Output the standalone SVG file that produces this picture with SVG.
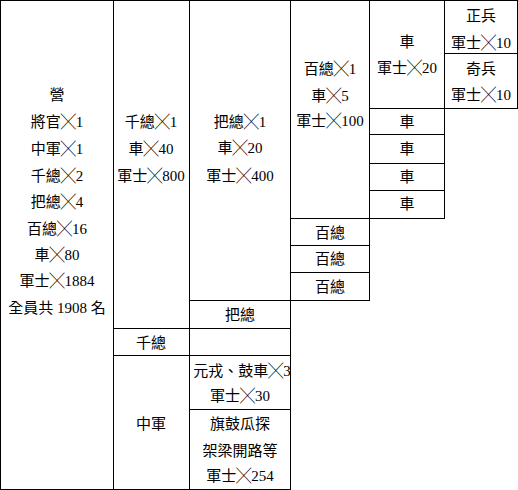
<svg xmlns="http://www.w3.org/2000/svg" width="518" height="490" viewBox="0 0 518 490">
<style>
text{font-family:"Liberation Serif","Noto Sans CJK TC",serif;font-size:15px;fill:#000;text-anchor:middle}
.x{font-family:"Noto Sans CJK TC",sans-serif;font-weight:300}
#grid line{stroke:#000;stroke-width:1}
</style>
<defs>
<clipPath id="c3"><rect x="190" y="356" width="100" height="53"/></clipPath>
</defs>
<rect width="518" height="490" fill="#fff"/>
<g id="grid">
<line x1="0" y1="0.5" x2="518" y2="0.5"/>
<line x1="0.5" y1="0" x2="0.5" y2="490"/>
<line x1="113.5" y1="0" x2="113.5" y2="490"/>
<line x1="189.5" y1="0" x2="189.5" y2="490"/>
<line x1="290.5" y1="0" x2="290.5" y2="490"/>
<line x1="369.5" y1="0" x2="369.5" y2="301"/>
<line x1="444.5" y1="0" x2="444.5" y2="219"/>
<line x1="517.5" y1="0" x2="517.5" y2="109"/>
<line x1="0" y1="489.5" x2="291" y2="489.5"/>
<line x1="444" y1="53.5" x2="518" y2="53.5"/>
<line x1="369" y1="108.5" x2="518" y2="108.5"/>
<line x1="369" y1="134.5" x2="445" y2="134.5"/>
<line x1="369" y1="163.5" x2="445" y2="163.5"/>
<line x1="369" y1="190.5" x2="445" y2="190.5"/>
<line x1="290" y1="218.5" x2="445" y2="218.5"/>
<line x1="290" y1="245.5" x2="370" y2="245.5"/>
<line x1="290" y1="272.5" x2="370" y2="272.5"/>
<line x1="189" y1="300.5" x2="370" y2="300.5"/>
<line x1="113" y1="328.5" x2="291" y2="328.5"/>
<line x1="113" y1="355.5" x2="291" y2="355.5"/>
<line x1="189" y1="409.5" x2="291" y2="409.5"/>
</g>
<g id="ying">
<text x="57" y="99.5">營</text>
<text x="57" y="126.5">將官<tspan class="x">╳</tspan>1</text>
<text x="57" y="153.5">中軍<tspan class="x">╳</tspan>1</text>
<text x="57" y="180.5">千總<tspan class="x">╳</tspan>2</text>
<text x="57" y="206.5">把總<tspan class="x">╳</tspan>4</text>
<text x="57" y="233.5">百總<tspan class="x">╳</tspan>16</text>
<text x="57" y="259.5">車<tspan class="x">╳</tspan>80</text>
<text x="57" y="285.5">軍士<tspan class="x">╳</tspan>1884</text>
<text x="57" y="312.5">全員共 1908 名</text>
</g>
<g id="qianzong">
<text x="151" y="126.5">千總<tspan class="x">╳</tspan>1</text>
<text x="151" y="153.5">車<tspan class="x">╳</tspan>40</text>
<text x="151" y="180.5">軍士<tspan class="x">╳</tspan>800</text>
</g>
<g id="qianzong2"><text x="151" y="347.5">千總</text></g>
<g id="zhongjun"><text x="151" y="428.5">中軍</text></g>
<g id="bazong">
<text x="240" y="126.5">把總<tspan class="x">╳</tspan>1</text>
<text x="240" y="152.5">車<tspan class="x">╳</tspan>20</text>
<text x="240" y="180.5">軍士<tspan class="x">╳</tspan>400</text>
</g>
<g id="bazong2"><text x="240" y="319.5">把總</text></g>
<g id="empty"></g>
<g id="yuanrong" clip-path="url(#c3)">
<text x="242" y="375.5">元戎、鼓車<tspan class="x">╳</tspan>3</text>
<text x="240" y="400.5">軍士<tspan class="x">╳</tspan>30</text>
</g>
<g id="qigu">
<text x="240" y="428.5">旗鼓瓜探</text>
<text x="240" y="455.5">架梁開路等</text>
<text x="240" y="480.5">軍士<tspan class="x">╳</tspan>254</text>
</g>
<g id="baizong">
<text x="330" y="73.5">百總<tspan class="x">╳</tspan>1</text>
<text x="330" y="100.5">車<tspan class="x">╳</tspan>5</text>
<text x="330" y="126">軍士<tspan class="x">╳</tspan>100</text>
</g>
<g id="baizong-a"><text x="330" y="237.5">百總</text></g>
<g id="baizong-b"><text x="330" y="263.5">百總</text></g>
<g id="baizong-c"><text x="330" y="291.5">百總</text></g>
<g id="che">
<text x="407" y="47">車</text>
<text x="407" y="72.5">軍士<tspan class="x">╳</tspan>20</text>
</g>
<g id="che-a"><text x="407" y="126.5">車</text></g>
<g id="che-b"><text x="407" y="153.5">車</text></g>
<g id="che-c"><text x="407" y="181.5">車</text></g>
<g id="che-d"><text x="407" y="209">車</text></g>
<g id="zhengbing">
<text x="481" y="20.5">正兵</text>
<text x="481" y="48">軍士<tspan class="x">╳</tspan>10</text>
</g>
<g id="qibing">
<text x="481" y="73.5">奇兵</text>
<text x="481" y="99.5">軍士<tspan class="x">╳</tspan>10</text>
</g>
</svg>
